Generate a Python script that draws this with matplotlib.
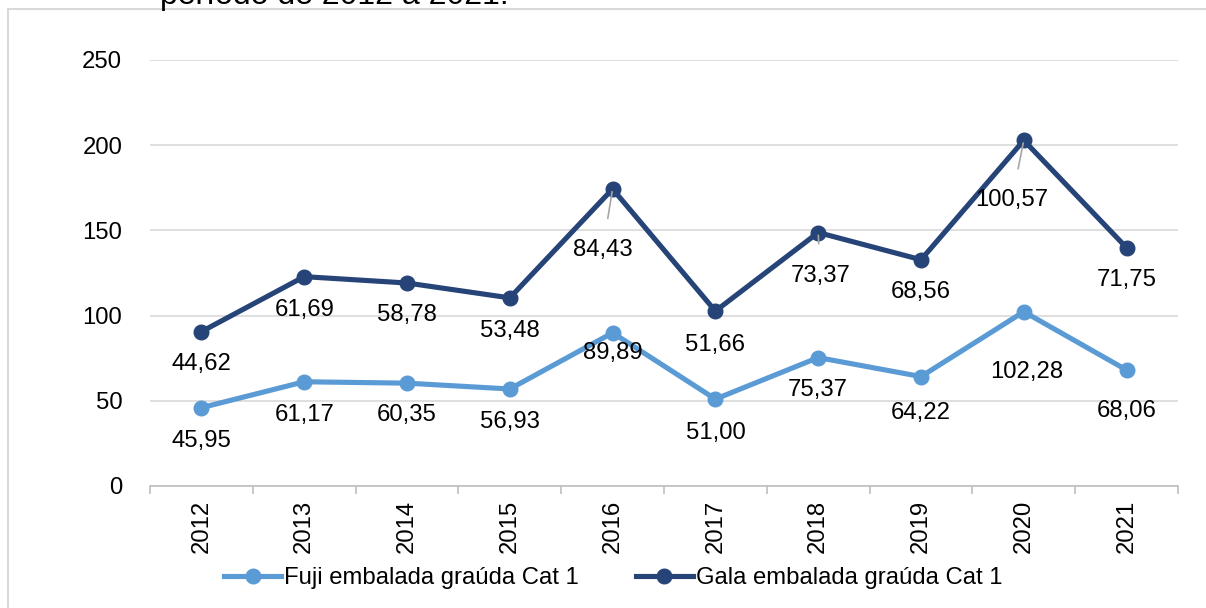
import matplotlib
matplotlib.use("Agg")
import matplotlib.pyplot as plt
from matplotlib.patches import Rectangle
import numpy as np

plt.rcParams['font.family'] = ['Liberation Sans', 'DejaVu Sans']

years = ['2012', '2013', '2014', '2015', '2016', '2017', '2018', '2019', '2020', '2021']
fuji = [45.95, 61.17, 60.35, 56.93, 89.89, 51.00, 75.37, 64.22, 102.28, 68.06]
gala = [44.62, 61.69, 58.78, 53.48, 84.43, 51.66, 73.37, 68.56, 100.57, 71.75]
yticks = [0, 50, 100, 150, 200, 250]

# label placement (pixels below point, horizontal shift)
fuji_dy = [33, 33, 32, 33, 20, 34, 32, 36, 60, 41]
fuji_dx = [0, 0, 0, 0, 0, 0, 0, 0, 3, 0]
gala_dy = [32, 33, 32, 33, 61, 34, 43, 32, 60, 32]
gala_dx = [0, 0, 0, 0, -10, 0, 2, 0, -12, 0]
gala_leader = [False, False, False, False, True, False, True, False, True, False]

C_FUJI = '#5B9BD5'
C_GALA = '#264478'
FS = 17.2

fig = plt.figure(figsize=(12.06, 6.08), dpi=100)
ax = fig.add_axes([150/1206, 1-486/608, 1028/1206, 426/608])

x = np.arange(len(years))
gala_stack = np.array(fuji) + np.array(gala)

ax.plot(x, fuji, color=C_FUJI, lw=3.7, marker='o', ms=10.5, label='Fuji embalada graúda Cat 1', zorder=3)
ax.plot(x, gala_stack, color=C_GALA, lw=3.7, marker='o', ms=10.5, label='Gala embalada graúda Cat 1', zorder=3)

def fmt(v):
    return f"{v:.2f}".replace('.', ',')

for i in range(len(years)):
    ax.annotate(fmt(fuji[i]), (x[i], fuji[i]), xytext=(fuji_dx[i], -fuji_dy[i]),
                textcoords='offset pixels', ha='center', va='center', fontsize=FS, color='black', zorder=4)
    if gala_leader[i]:
        ax.annotate(fmt(gala[i]), (x[i], gala_stack[i]), xytext=(gala_dx[i], -gala_dy[i]),
                    textcoords='offset pixels', ha='center', va='center', fontsize=FS, color='black',
                    arrowprops=dict(arrowstyle='-', color='#A6A6A6', lw=1.2, shrinkA=13, shrinkB=2), zorder=4)
    else:
        ax.annotate(fmt(gala[i]), (x[i], gala_stack[i]), xytext=(gala_dx[i], -gala_dy[i]),
                    textcoords='offset pixels', ha='center', va='center', fontsize=FS, color='black', zorder=4)

ax.set_xlim(-0.5, len(years) - 0.5)
ax.set_ylim(0, 250)
ax.set_yticks(yticks)
ax.set_yticklabels([str(v) for v in yticks], fontsize=FS)
ax.yaxis.grid(True, color='#D9D9D9', lw=1.2)
ax.set_axisbelow(True)
ax.tick_params(axis='y', length=0, pad=20)

ax.set_xticks(x)
ax.set_xticklabels(years, rotation=90, fontsize=FS)
ax.set_xticks(np.arange(-0.5, len(years)), minor=True)
ax.tick_params(axis='x', which='major', length=0, pad=10)
ax.tick_params(axis='x', which='minor', length=6, color='#BFBFBF', width=1.2)

for s in ['top', 'right', 'left']:
    ax.spines[s].set_visible(False)
ax.spines['bottom'].set_color('#BFBFBF')
ax.spines['bottom'].set_linewidth(1.2)

leg = fig.legend(loc='center', bbox_to_anchor=(613/1206, 1-578/608), ncol=2, frameon=False,
                 fontsize=FS, handlelength=2.4, handletextpad=0.1, columnspacing=2.4)

# outer chart frame
fig.patches.append(Rectangle((8/1206, -0.2), 1.2, 1.2 - 9/608, transform=fig.transFigure,
                             fill=False, edgecolor='#D9D9D9', lw=1.5))
fig.text(160/1206, 1-4/608, 'período de 2012 a 2021.', fontsize=23, ha='left', va='baseline')

fig.savefig('out.png', dpi=100)
